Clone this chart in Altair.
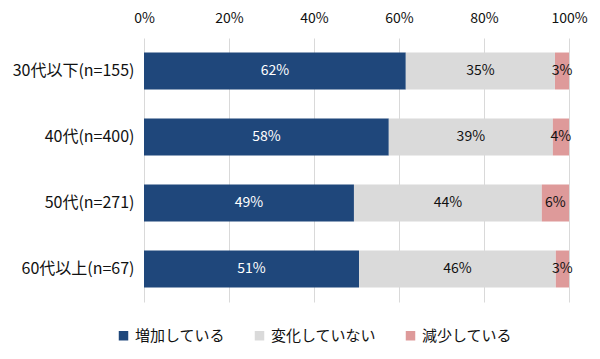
import altair as alt
import pandas as pd

categories = ["30代以下(n=155)", "40代(n=400)", "50代(n=271)", "60代以上(n=67)"]
series = ["増加している", "変化していない", "減少している"]
increase = [61.6, 57.6, 49.4, 50.6]
nochange = [35.1, 38.6, 44.2, 46.3]
decrease = [3.3, 3.8, 6.4, 3.1]
colors = ["#1F477B", "#DADADA", "#DE9A9A"]
text_colors = ["#FFFFFF", "#111111", "#111111"]
ticks = [0, 20, 40, 60, 80, 100]

rows = []
for i, c in enumerate(categories):
    for j, (s, vals) in enumerate(zip(series, [increase, nochange, decrease])):
        rows.append({"cat": c, "series": s, "order": j, "value": vals[i],
                     "tcolor": text_colors[j]})
df = pd.DataFrame(rows)

FONT = "Noto Sans CJK JP"

base = alt.Chart(df).transform_stack(
    stack="value", groupby=["cat"], sort=[alt.SortField("order")], as_=["v0", "v1"]
).transform_calculate(
    mid="(datum.v0 + datum.v1) / 2",
    label="round(datum.value) + '%'"
)

y = alt.Y("cat:N", sort=categories, title=None,
          scale=alt.Scale(paddingInner=0.44, paddingOuter=0.22),
          axis=alt.Axis(labelFontSize=16, labelColor="#111111", labelFont=FONT,
                        ticks=False, domain=False, labelPadding=10,
                        minExtent=136, maxExtent=136))

bars = base.mark_bar().encode(
    x=alt.X("v0:Q", title=None,
            scale=alt.Scale(domain=[0, 100], nice=False),
            axis=alt.Axis(orient="top", values=ticks, labelExpr="datum.value + '%'",
                          grid=True, gridColor="#D9D9D9", ticks=False, domain=False,
                          labelFlush=False,
                          labelFontSize=14, labelColor="#111111", labelFont=FONT,
                          labelPadding=13, minExtent=30, maxExtent=30)),
    x2="v1:Q",
    y=y,
    color=alt.Color("series:N", sort=series,
                    scale=alt.Scale(domain=series, range=colors),
                    legend=alt.Legend(title=None, orient="none", direction="horizontal",
                                      legendX=-28, legendY=290,
                                      symbolType="square", symbolSize=90,
                                      symbolStrokeWidth=0,
                                      labelFontSize=15, labelFont=FONT,
                                      labelColor="#111111", labelOffset=4,
                                      columnPadding=26)),
)

texts = base.mark_text(fontSize=14, font=FONT).encode(
    x="mid:Q",
    y=alt.Y("cat:N", sort=categories),
    text="label:N",
    color=alt.Color("tcolor:N", scale=None),
)

chart = alt.layer(bars, texts).properties(
    width=425, height=264, padding={"left": 0, "top": 0, "right": 0, "bottom": 0},
    background="#FFFFFF"
).configure_view(stroke=None)

chart.save("out.html", embed_options={"renderer": "svg", "actions": False})
